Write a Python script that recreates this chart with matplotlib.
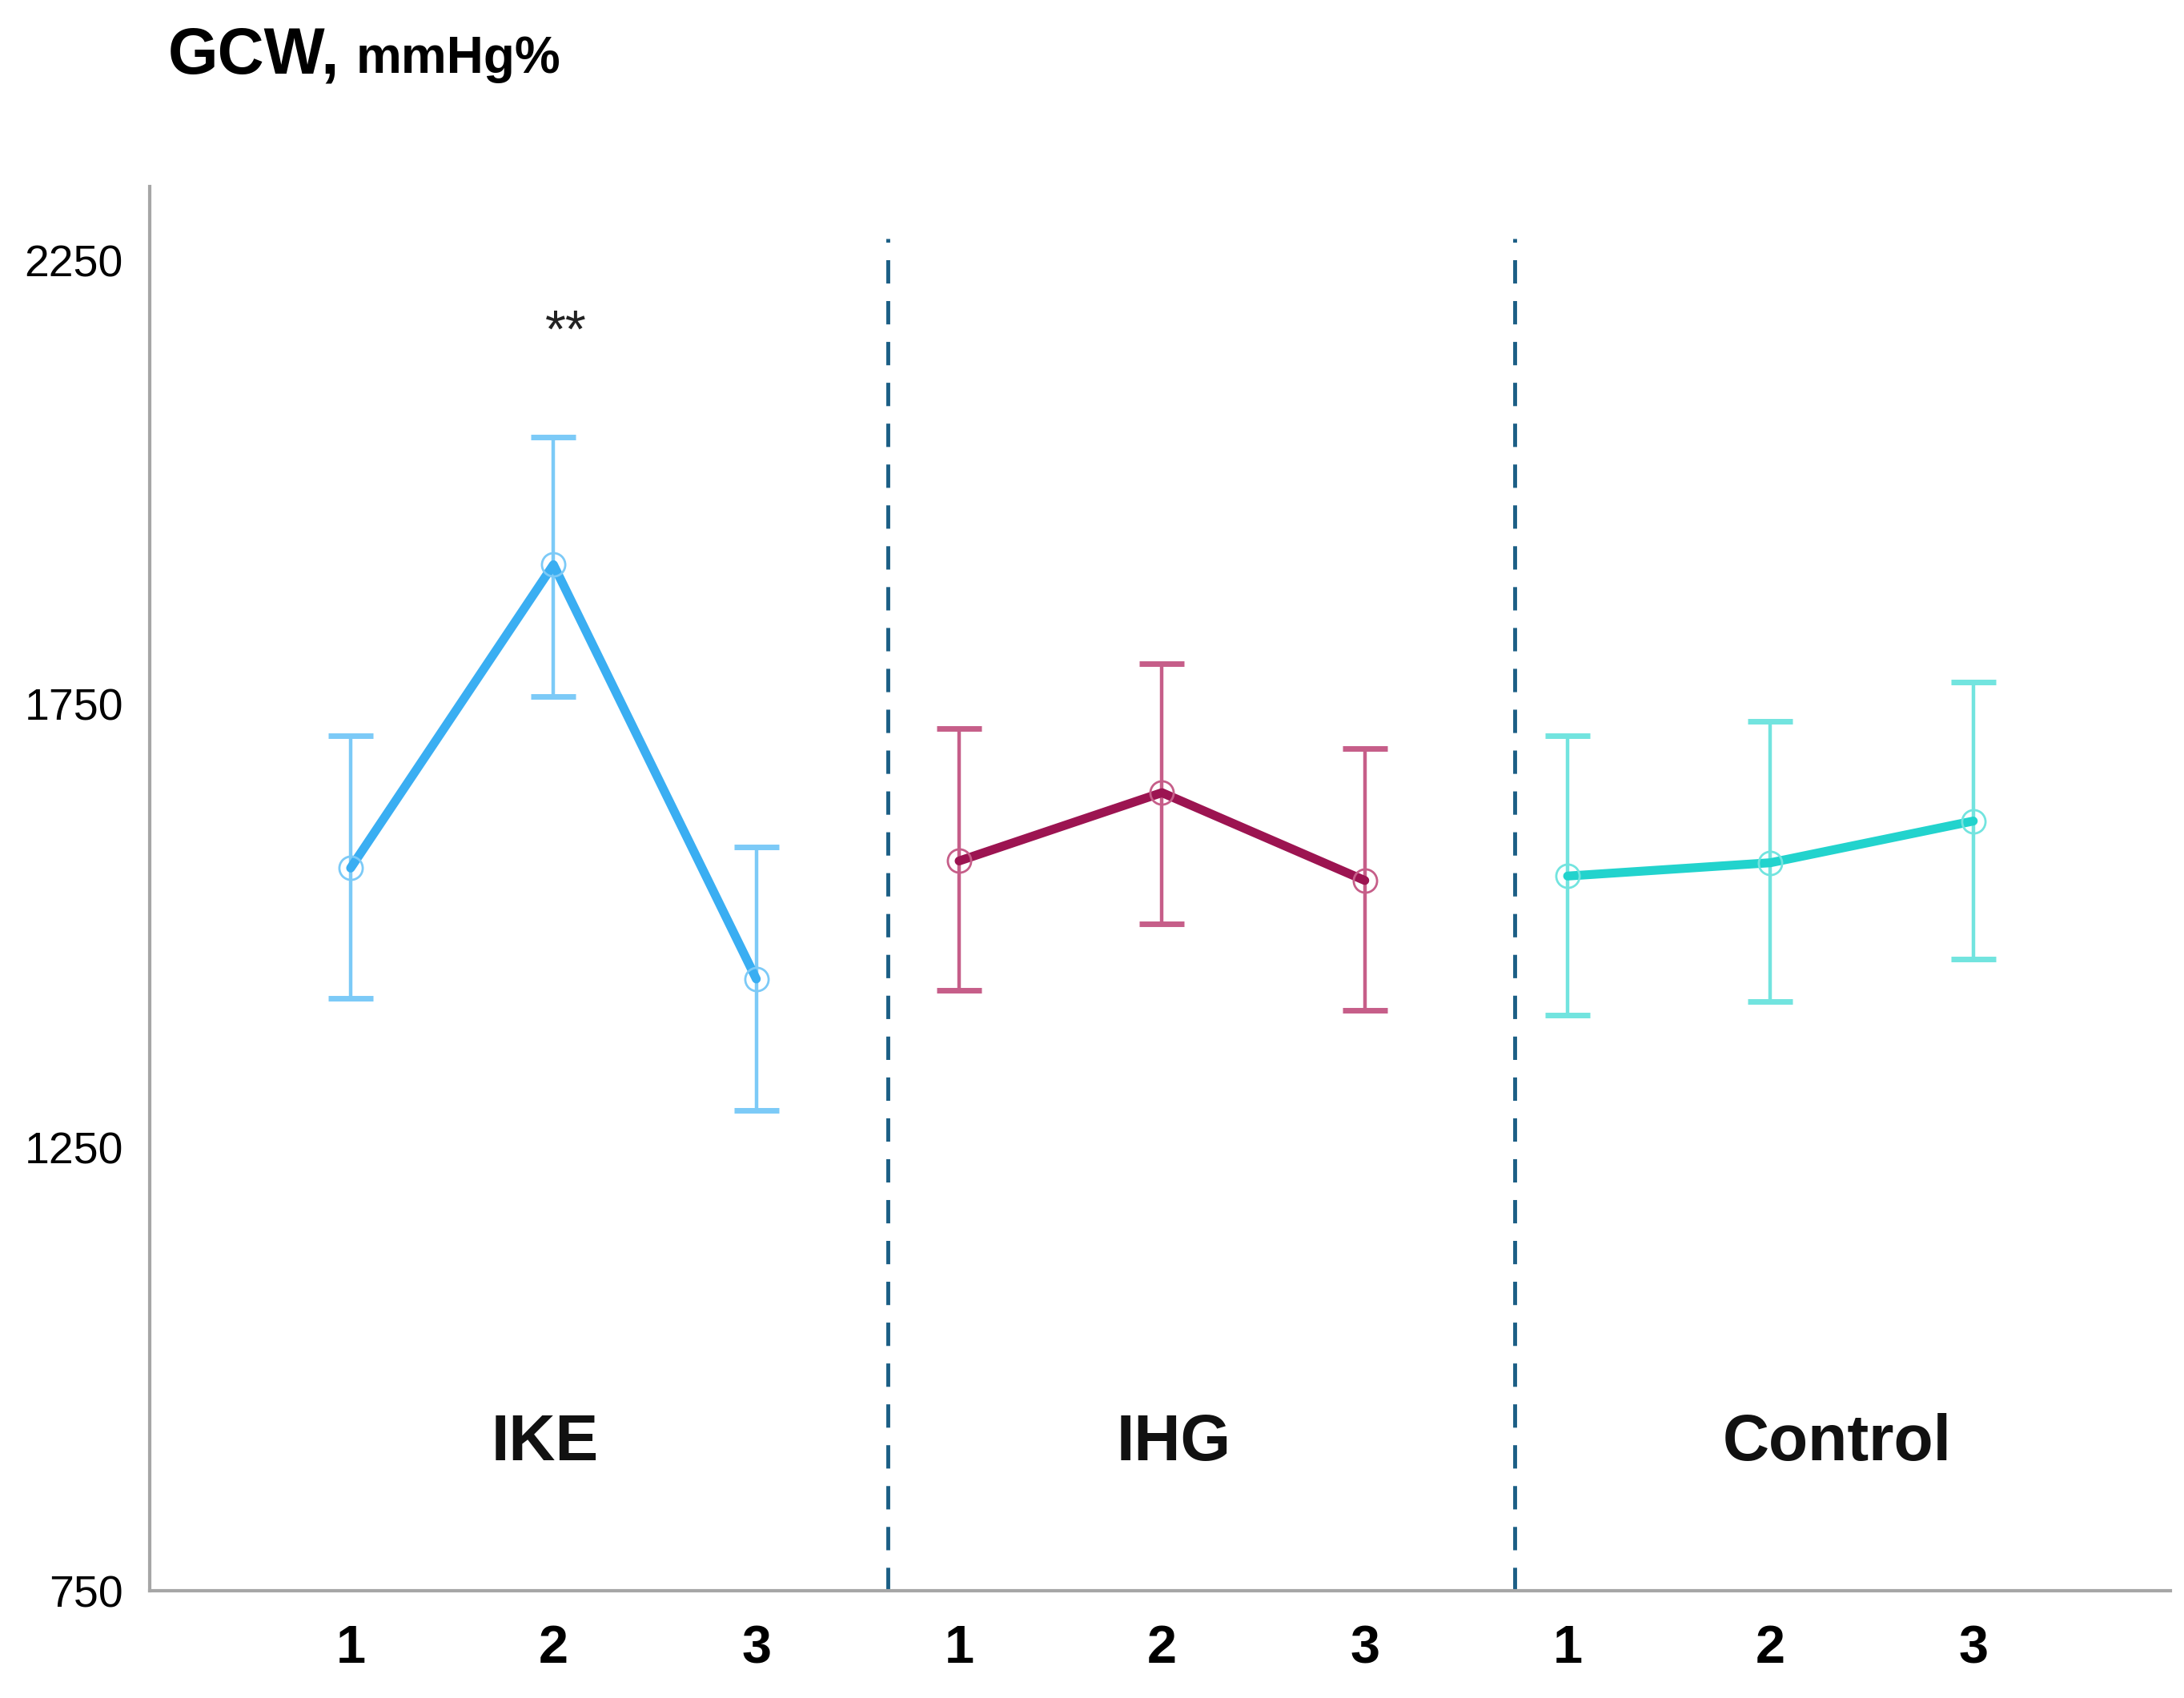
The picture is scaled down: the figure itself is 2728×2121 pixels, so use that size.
import numpy as np
import matplotlib.pyplot as plt

plt.rcParams['font.family'] = ['Liberation Sans', 'DejaVu Sans']

groups = ["IKE", "IHG", "Control"]
visits = ["1", "2", "3"]

ike_mean = [1565, 1907, 1440]
ike_upper = [1714, 2051, 1589]
ike_lower = [1418, 1758, 1292]

ihg_mean = [1573, 1650, 1551]
ihg_upper = [1722, 1795, 1700]
ihg_lower = [1427, 1502, 1405]

ctrl_mean = [1556, 1571, 1618]
ctrl_upper = [1714, 1730, 1775]
ctrl_lower = [1399, 1415, 1462]

y_ticks = [750, 1250, 1750, 2250]

line_colors = ["#3AAEF2", "#9C1451", "#22D3CD"]
bar_colors = ["#7CCAF7", "#C65E89", "#72E4DF"]

fig = plt.figure(figsize=(27.28, 21.21), dpi=100)
ax = fig.add_axes([0.0686, 0.063, 0.925, 0.827])

series = [(ike_mean, ike_upper, ike_lower),
          (ihg_mean, ihg_upper, ihg_lower),
          (ctrl_mean, ctrl_upper, ctrl_lower)]

for g, (m, up, lo) in enumerate(series):
    x = np.arange(3) + 3 * g
    m = np.array(m)
    err = [m - np.array(lo), np.array(up) - m]
    ax.errorbar(x, m, yerr=err, fmt="none", ecolor=bar_colors[g],
                elinewidth=3.2, capsize=20, capthick=5, zorder=2)
    ax.plot(x, m, color=line_colors[g], lw=8, solid_capstyle="round", zorder=3)
    ax.plot(x, m, ls="none", marker="o", ms=21, mfc="none",
            mec=bar_colors[g], mew=2, zorder=4)

# dashed group separators
for xs in [2.65, 5.74]:
    ax.vlines(xs, 750, 2275, colors="#1B5E85", lw=3.5, linestyles=(0, (6, 4.5)), zorder=1)

label_x = [0.96, 4.06, 7.33]
for g, name in enumerate(groups):
    ax.text(label_x[g], 916, name, ha="center", va="center",
            fontsize=58, fontweight="bold", color="#111111")

ax.text(1.06, 2168, "**", ha="center", va="center", fontsize=48, color="#222222")

ax.set_xlim(-0.99, 8.97)
ax.set_ylim(750, 2333)
ax.set_xticks(np.arange(9))
ax.set_xticklabels(visits * 3, fontsize=48, fontweight="bold")
ax.set_yticks(y_ticks)
ax.set_yticklabels([str(v) for v in y_ticks], fontsize=40)
ax.tick_params(length=0)
ax.tick_params(axis="y", pad=24)
ax.tick_params(axis="x", pad=30)

for s in ["top", "right"]:
    ax.spines[s].set_visible(False)
for s in ["left", "bottom"]:
    ax.spines[s].set_color("#A6A6A6")
    ax.spines[s].set_linewidth(3)

fig.text(0.077, 0.957, "GCW,", fontsize=58, fontweight="bold", va="baseline")
fig.text(0.163, 0.957, "mmHg%", fontsize=46, fontweight="bold", va="baseline")

fig.savefig("out.png", dpi=100)
